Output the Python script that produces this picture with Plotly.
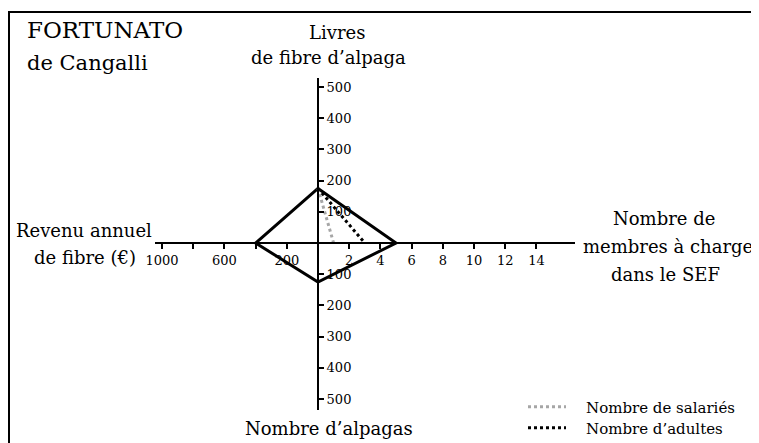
import plotly.graph_objects as go

# values of the diagram
revenu_fibre = 400        # Revenu annuel de fibre (€)
livres_fibre = 175        # Livres de fibre d'alpaga
membres_charge = 5        # Nombre de membres à charge dans le SEF
nb_alpagas = 125          # Nombre d'alpagas
nb_salaries = 1
nb_adultes = 3

# tick marks of the four half axes
revenu_ticks = [1000, 800, 600, 400, 200]
revenu_labels = ["1000", "", "600", "", "200"]
membres_ticks = [2, 4, 6, 8, 10, 12, 14]
livres_ticks = [100, 200, 300, 400, 500]
alpagas_ticks = [100, 200, 300, 400, 500]

# each half axis has its own unit, mapped onto one common grid
revenu_unit = 200
membres_unit = 2
livres_unit = 100
alpagas_unit = 100

# the page body has an 8px margin, so the figure starts at (8, 8)
OFF = 8
W, H = 759 - OFF, 443 - OFF
serif = "DejaVu Serif"
px_unit = 31.2
cx, cy = 318, 243
x_left, x_right = 155, 575
y_top, y_bottom = 78, 410


def px(x):
    return (x - OFF) / W


def py(y):
    return 1 - (y - OFF) / H


def hx(v):
    return v / membres_unit


def lx(v):
    return -v / revenu_unit


def ty(v):
    return v / livres_unit


def by(v):
    return -v / alpagas_unit


fig = go.Figure()

fig.add_trace(go.Scatter(
    x=[0, hx(membres_charge), 0, lx(revenu_fibre), 0],
    y=[ty(livres_fibre), 0, by(nb_alpagas), 0, ty(livres_fibre)],
    mode="lines", line=dict(color="black", width=3),
    showlegend=False, cliponaxis=False, hoverinfo="skip",
))
fig.add_trace(go.Scatter(
    x=[0, hx(nb_salaries)], y=[ty(livres_fibre), 0],
    mode="lines", line=dict(color="#a6a6a6", width=3, dash="dot"),
    name="\u2002\u2002Nombre de salariés", cliponaxis=False, legend="legend",
))
fig.add_trace(go.Scatter(
    x=[0, hx(nb_adultes)], y=[ty(livres_fibre), 0],
    mode="lines", line=dict(color="black", width=3, dash="dot"),
    name="\u2002\u2002Nombre d’adultes", cliponaxis=False, legend="legend2",
))

axis_style = dict(
    showgrid=False, zeroline=False, showline=True, linecolor="black",
    linewidth=2, ticks="outside", ticklen=5, tickwidth=2, tickcolor="black",
    tickfont=dict(family=serif, size=13, color="black"), fixedrange=True,
)
legend_style = dict(
    xanchor="left", yanchor="middle",
    font=dict(family=serif, size=15, color="black"),
    itemwidth=38, bgcolor="rgba(0,0,0,0)",
)

fig.update_layout(
    width=W, height=H,
    margin=dict(l=0, r=0, t=0, b=0, autoexpand=False),
    paper_bgcolor="white", plot_bgcolor="white",
    font=dict(family=serif),
    xaxis=dict(
        axis_style,
        domain=[px(x_left), px(x_right)],
        range=[-(cx - x_left) / px_unit, (x_right - cx) / px_unit],
        anchor="free", position=py(cy),
        tickvals=[lx(v) for v in revenu_ticks] + [hx(v) for v in membres_ticks],
        ticktext=revenu_labels + [str(v) for v in membres_ticks],
    ),
    yaxis=dict(
        axis_style,
        domain=[py(y_bottom), py(y_top)],
        range=[-(y_bottom - cy) / px_unit, (cy - y_top) / px_unit],
        anchor="free", position=px(cx), side="right",
        tickvals=[ty(v) for v in livres_ticks] + [by(v) for v in alpagas_ticks],
        ticktext=[str(v) for v in livres_ticks] + [str(v) for v in alpagas_ticks],
    ),
    legend=dict(legend_style, x=px(523), y=py(407)),
    legend2=dict(legend_style, x=px(523), y=py(428)),
    shapes=[dict(
        type="rect", xref="paper", yref="paper",
        x0=px(9), x1=1.02, y0=-0.02, y1=py(12),
        line=dict(color="black", width=2),
    )],
)

labels = [
    ("FORTUNATO", 25, 30, "left", 23),
    ("de Cangalli", 25, 63, "left", 21),
    ("Livres", 337, 32, "center", 18),
    ("de fibre d’alpaga", 328, 58, "center", 18),
    ("Revenu annuel", 84, 230, "center", 18),
    ("de fibre (€)", 85, 258, "center", 18),
    ("Nombre de", 664, 218, "center", 18),
    ("membres à charge", 668, 246, "center", 18),
    ("dans le SEF", 665, 274, "center", 18),
    ("Nombre d’alpagas", 329, 428, "center", 18),
]
for text, x, y, anchor, size in labels:
    fig.add_annotation(
        text=text, xref="paper", yref="paper", x=px(x), y=py(y),
        xanchor=anchor, yanchor="middle", showarrow=False,
        font=dict(family=serif, size=size, color="black"),
    )

fig.write_html("out.html")
